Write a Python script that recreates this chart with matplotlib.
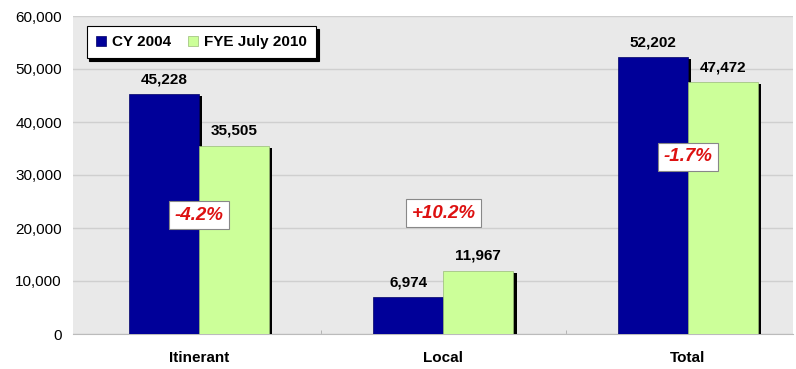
import numpy as np
import matplotlib.pyplot as plt
import matplotlib.patheffects as pe

plt.rcParams['font.family'] = ['Liberation Sans', 'DejaVu Sans']

categorias = ["Itinerant", "Local", "Total"]
cy2004 = [45228, 6974, 52202]
fye2010 = [35505, 11967, 47472]
cambios = ["-4.2%", "+10.2%", "-1.7%"]
pos_cambio = [22400, 22800, 33400]

fig = plt.figure(figsize=(7.96, 3.69), dpi=100)
ax = fig.add_axes([73/796, 35/369, 720/796, 318/369])
ax.set_facecolor("#e9e9e9")

x = np.arange(len(categorias))
ancho = 0.286
sombra = [pe.SimplePatchShadow(offset=(2.5, -1.5), shadow_rgbFace="black", alpha=1.0), pe.Normal()]
b1 = ax.bar(x - ancho/2, cy2004, ancho, color="#000099", edgecolor="#000066", linewidth=0.5,
            label="CY 2004", path_effects=sombra, zorder=3)
b2 = ax.bar(x + ancho/2, fye2010, ancho, color="#ccff99", edgecolor="#99bb77", linewidth=0.5,
            label="FYE July 2010", path_effects=sombra, zorder=3)

for i in range(len(x)):
    ax.text(x[i] - ancho/2, cy2004[i] + 1500, f"{cy2004[i]:,}", ha="center", va="bottom",
            fontsize=11, fontweight="bold", zorder=5)
    ax.text(x[i] + ancho/2, fye2010[i] + 1500, f"{fye2010[i]:,}", ha="center", va="bottom",
            fontsize=11, fontweight="bold", zorder=5)
    ax.text(x[i], pos_cambio[i], cambios[i], ha="center", va="center", color="#dd1111",
            fontsize=13.5, fontweight="bold", fontstyle="italic", zorder=6,
            bbox=dict(boxstyle="square,pad=0.3", facecolor="white", edgecolor="#888888", linewidth=0.8))

ax.set_xlim(-0.515, 2.43)
ax.set_ylim(0, 60000)
ax.set_yticks(np.arange(0, 60001, 10000))
ax.set_yticklabels([f"{v:,}" for v in range(0, 60001, 10000)], fontsize=11)
ax.set_xticks(x)
ax.set_xticklabels(categorias, fontsize=11, fontweight="bold")
ax.tick_params(axis="x", length=0, pad=12)
ax.tick_params(axis="y", length=0, pad=8)
ax.set_xticks([0.5, 1.5], minor=True)
ax.tick_params(axis="x", which="minor", length=3, color="#aaaaaa", direction="in")
ax.grid(axis="y", color="#cfcfcf", linewidth=1, zorder=0)
ax.set_axisbelow(True)
for s in ["top", "right", "left"]:
    ax.spines[s].set_visible(False)
ax.spines["bottom"].set_color("#bbbbbb")

leg = ax.legend(loc="upper left", bbox_to_anchor=(0.019, 0.969), borderaxespad=0, ncol=2,
                fontsize=11, frameon=True, fancybox=False, shadow={"color": "black", "alpha": 1.0},
                handlelength=0.65, handleheight=0.65, handletextpad=0.4, columnspacing=1.1,
                borderpad=0.6, framealpha=1)
leg.get_frame().set_edgecolor("black")
leg.get_frame().set_linewidth(0.8)
for h in leg.legend_handles:
    h.set_path_effects([])
for t in leg.get_texts():
    t.set_fontweight("bold")

plt.savefig("out.png", dpi=100)
